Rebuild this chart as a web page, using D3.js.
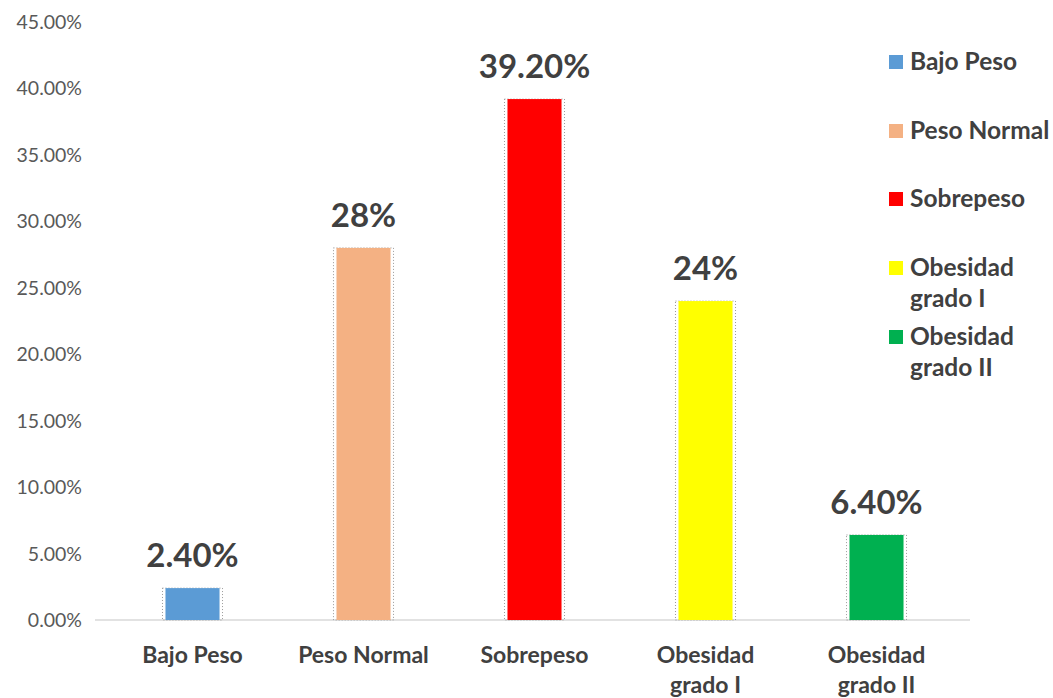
<!DOCTYPE html>
<html>
<head>
<meta charset="utf-8">
<script src="https://cdn.jsdelivr.net/npm/d3@7"></script>
<style>
  body { margin: 0; background: #fff; }
  text { font-family: Lato, "Open Sans", sans-serif; }
</style>
</head>
<body>
<svg id="chart" width="1053" height="698"></svg>
<script>
// data
const categories = ["Bajo Peso", "Peso Normal", "Sobrepeso", "Obesidad grado I", "Obesidad grado II"];
const values = [2.4, 28, 39.2, 24, 6.4];
const valueLabels = ["2.40%", "28%", "39.20%", "24%", "6.40%"];
const axisLines = [["Bajo Peso"], ["Peso Normal"], ["Sobrepeso"], ["Obesidad", "grado I"], ["Obesidad", "grado II"]];
const legendLines = [["Bajo Peso"], ["Peso Normal"], ["Sobrepeso"], ["Obesidad", "grado I"], ["Obesidad", "grado II"]];
const colors = ["#5b9bd5", "#f4b183", "#ff0000", "#ffff00", "#00b050"];
const yTicks = [0, 5, 10, 15, 20, 25, 30, 35, 40, 45];

const svg = d3.select("#chart");

const x = d3.scaleBand().domain(categories).range([107, 962]).paddingInner(0.684).paddingOuter(0.342);
const y = d3.scaleLinear().domain([0, 45]).range([620, 22]);

// y axis labels
svg.append("g").selectAll("text").data(yTicks).join("text")
  .attr("x", 82).attr("y", d => y(d) + 7)
  .attr("text-anchor", "end")
  .attr("font-size", 19.5).attr("fill", "#595959")
  .text(d => d.toFixed(2) + "%");

// baseline
svg.append("line")
  .attr("x1", 95).attr("x2", 970).attr("y1", y(0)).attr("y2", y(0))
  .attr("stroke", "#d9d9d9").attr("stroke-width", 1.5);

const g = svg.append("g");
// dotted shadow outline
g.selectAll("rect.sh").data(categories).join("rect")
  .attr("class", "sh")
  .attr("x", d => x(d) - 3).attr("y", (d, i) => y(values[i]))
  .attr("width", x.bandwidth() + 6).attr("height", (d, i) => y(0) - y(values[i]))
  .attr("fill", "none").attr("stroke", "#999").attr("stroke-width", 1)
  .attr("stroke-dasharray", "1,2");

g.selectAll("rect.bar").data(categories).join("rect")
  .attr("class", "bar")
  .attr("x", d => x(d)).attr("y", (d, i) => y(values[i]))
  .attr("width", x.bandwidth()).attr("height", (d, i) => y(0) - y(values[i]))
  .attr("fill", (d, i) => colors[i]);

// value labels
g.selectAll("text.val").data(categories).join("text")
  .attr("class", "val")
  .attr("x", d => x(d) + x.bandwidth() / 2)
  .attr("y", (d, i) => y(values[i]) - 21)
  .attr("text-anchor", "middle")
  .attr("font-size", 33).attr("font-weight", "bold").attr("fill", "#404040")
  .text((d, i) => valueLabels[i]);

// x labels
const xl = svg.append("g").selectAll("text").data(categories).join("text")
  .attr("text-anchor", "middle")
  .attr("font-size", 23).attr("font-weight", "bold").attr("fill", "#404040")
  .attr("x", d => x(d) + x.bandwidth() / 2)
  .attr("y", 663);
xl.selectAll("tspan").data((d, i) => axisLines[i]).join("tspan")
  .attr("x", function () { return d3.select(this.parentNode).attr("x"); })
  .attr("dy", (d, i) => i === 0 ? 0 : 30)
  .text(d => d);

// legend
const legendY = [62, 131, 199, 268, 337];
const lg = svg.append("g").selectAll("g").data(categories).join("g")
  .attr("transform", (d, i) => `translate(889, ${legendY[i]})`);
lg.append("rect").attr("x", 0).attr("y", -7).attr("width", 14).attr("height", 14)
  .attr("fill", (d, i) => colors[i]);
lg.append("text")
  .attr("font-size", 24.5).attr("font-weight", "bold").attr("fill", "#404040")
  .selectAll("tspan").data((d, i) => legendLines[i]).join("tspan")
  .attr("x", 21).attr("y", (d, i) => 8 + i * 31)
  .text(d => d);
</script>
</body>
</html>
